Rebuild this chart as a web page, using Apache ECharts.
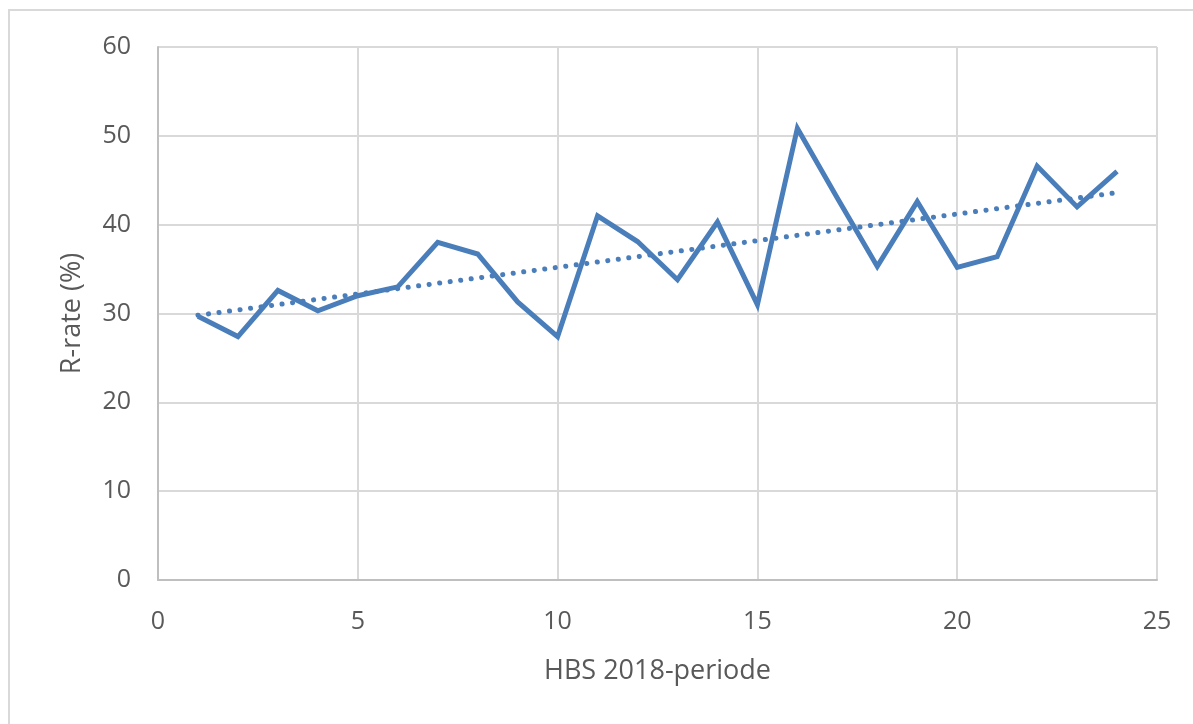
<!DOCTYPE html>
<html><head><meta charset="utf-8">
<script src="https://cdn.jsdelivr.net/npm/echarts@6/dist/echarts.min.js"></script>
<style>
html,body{margin:0;padding:0;background:#fff;}
#frame{position:absolute;left:8px;top:9px;width:1185px;height:715px;border-left:2px solid #d9d9d9;border-top:2px solid #d9d9d9;box-sizing:border-box;}
#c{position:absolute;left:0;top:0;width:1193px;height:724px;}
</style></head>
<body>
<div id="frame"></div>
<div id="c"></div>
<script>
const periods = [1,2,3,4,5,6,7,8,9,10,11,12,13,14,15,16,17,18,19,20,21,22,23,24];
const rRate = [29.7,27.4,32.6,30.3,32.0,33.0,38.0,36.7,31.3,27.4,41.0,38.1,33.8,40.3,31.0,50.85,43.0,35.3,42.6,35.2,36.4,46.6,42.0,46.0];
const trendX = [1,24];
const trendY = [29.8,43.6];
const xTicks = [0,5,10,15,20,25];
const yTicks = [0,10,20,30,40,50,60];

const chart = echarts.init(document.getElementById('c'), null, {renderer:'canvas'});
const font = '"Open Sans", "Liberation Sans", sans-serif';
const txt = '#595959';
chart.setOption({
  animation:false,
  backgroundColor:'transparent',
  grid:{left:158,top:47,right:36,bottom:144,containLabel:false},
  xAxis:{type:'value',min:0,max:25,interval:5,
    name:'HBS 2018-periode',nameLocation:'middle',nameGap:78,
    nameTextStyle:{color:txt,fontSize:27,fontFamily:font},
    axisLine:{show:true,lineStyle:{color:'#bfbfbf',width:2}},
    axisTick:{show:false},
    axisLabel:{color:txt,fontSize:25,fontFamily:font,margin:29},
    splitLine:{show:true,lineStyle:{color:'#d9d9d9',width:2}}},
  yAxis:{type:'value',min:0,max:60,interval:10,
    name:'R-rate (%)',nameLocation:'middle',nameGap:72,nameRotate:90,
    nameTextStyle:{color:txt,fontSize:27,fontFamily:font},
    axisLine:{show:true,lineStyle:{color:'#bfbfbf',width:2}},
    axisTick:{show:false},
    axisLabel:{color:txt,fontSize:25,fontFamily:font,margin:27},
    splitLine:{show:true,lineStyle:{color:'#d9d9d9',width:2}}},
  series:[
    {type:'line',data:trendX.map((x,i)=>[x,trendY[i]]),symbol:'none',
     lineStyle:{color:'#4a7ebb',width:5,type:[0.1,10.5],cap:'round'},z:2},
    {type:'line',data:periods.map((x,i)=>[x,rRate[i]]),symbol:'none',
     lineStyle:{color:'#4a7ebb',width:5,join:'miter'},z:3}
  ]
});
</script>
</body></html>
